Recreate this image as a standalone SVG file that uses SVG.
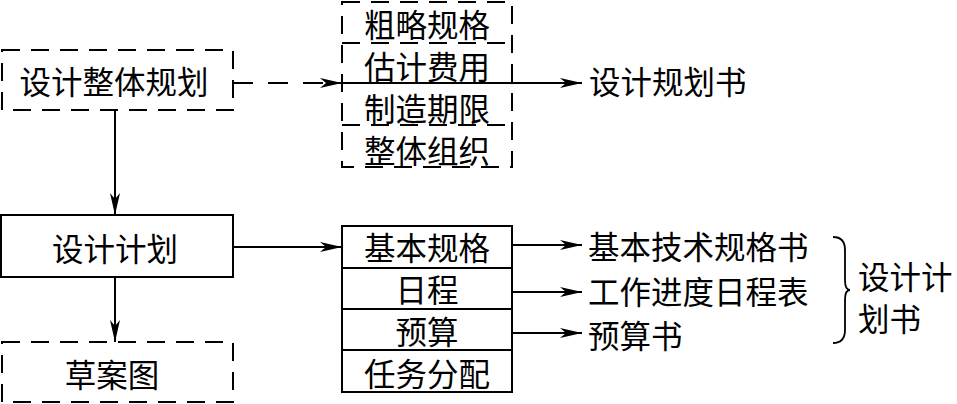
<svg xmlns="http://www.w3.org/2000/svg" width="957" height="404" viewBox="0 0 957 404">
<style>
.t{font-family:"Noto Sans CJK SC","Noto Sans",sans-serif;font-size:31.5px;fill:#000;dominant-baseline:central}
.m{text-anchor:middle}
.box{fill:none;stroke:#000;stroke-width:2}
.dash{stroke-dasharray:18 11}
.ln{fill:none;stroke:#000;stroke-width:2}
.arr{marker-end:url(#ah)}
</style>
<defs>
<marker id="ah" viewBox="0 0 22 10" refX="22" refY="5" markerWidth="22" markerHeight="10" markerUnits="userSpaceOnUse" orient="auto">
<path d="M0,0 L22,5 L0,10 L6,5 z" fill="#000"/>
</marker>
</defs>
<rect width="957" height="404" fill="#fff"/>
<g id="connectors">
<path class="ln arr" d="M233,83 H342" style="stroke-dasharray:20 15"/>
<path class="ln arr" d="M342,83 H582"/>
<path class="ln arr" d="M115,110 V215"/>
<path class="ln arr" d="M115,277 V342"/>
<path class="ln arr" d="M233,247 H342"/>
<path class="ln arr" d="M512,245 H582"/>
<path class="ln arr" d="M512,292 H582"/>
<path class="ln arr" d="M512,333 H582"/>
<path class="ln" d="M833,237 Q845,237 845,250 V280 Q845,290 850,290 Q845,290 845,300 V330 Q845,343 833,343" style="stroke-width:1.8"/>
</g>
<g id="n1">
<rect class="box dash" x="2" y="50" width="231" height="60"/>
<text class="t m" x="114" y="80">设计整体规划</text>
</g>
<g id="n2">
<rect class="box dash" x="342" y="2" width="170" height="165"/>
<path class="ln dash" d="M342,43 H512 M342,125 H512"/>
<text class="t m" x="427" y="23">粗略规格</text>
<text class="t m" x="427" y="65">估计费用</text>
<text class="t m" x="427" y="107">制造期限</text>
<text class="t m" x="427" y="149">整体组织</text>
</g>
<g id="n3">
<text class="t" x="589" y="80">设计规划书</text>
</g>
<g id="n4">
<rect class="box" x="1" y="215" width="232" height="62"/>
<text class="t m" x="115" y="247">设计计划</text>
</g>
<g id="n5">
<rect class="box dash" x="2" y="342" width="231" height="60"/>
<text class="t m" x="112" y="373">草案图</text>
</g>
<g id="n6">
<rect class="box" x="342" y="226" width="170" height="166"/>
<path class="ln" d="M342,268 H512 M342,309 H512 M342,350 H512"/>
<text class="t m" x="427" y="246">基本规格</text>
<text class="t m" x="427" y="288">日程</text>
<text class="t m" x="427" y="330">预算</text>
<text class="t m" x="427" y="372">任务分配</text>
</g>
<g id="n7">
<text class="t" x="588" y="245">基本技术规格书</text>
<text class="t" x="588" y="290">工作进度日程表</text>
<text class="t" x="588" y="334">预算书</text>
</g>
<g id="n8">
<text class="t" x="858" y="275">设计计</text>
<text class="t" x="858" y="317">划书</text>
</g>
</svg>
